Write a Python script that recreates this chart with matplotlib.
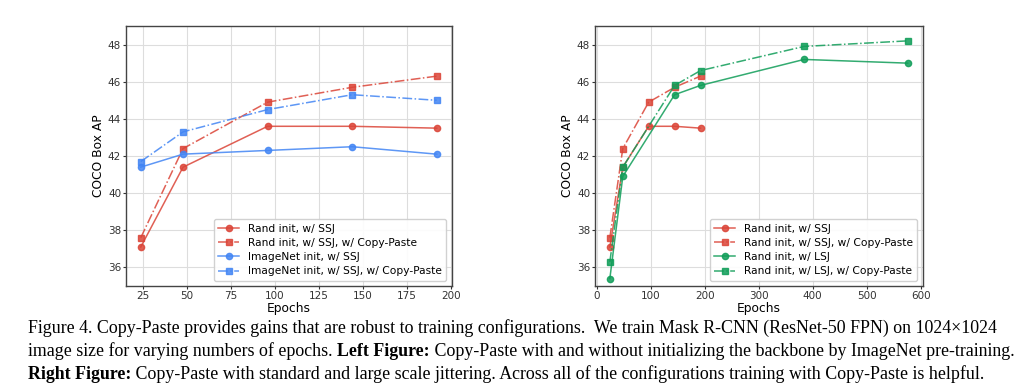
import matplotlib
matplotlib.use("Agg")
import matplotlib.pyplot as plt

# data
epochs_ssj = [24, 48, 96, 144, 192]
rand_ssj = [37.1, 41.4, 43.6, 43.6, 43.5]
rand_ssj_cp = [37.6, 42.4, 44.9, 45.7, 46.3]
imnet_ssj = [41.4, 42.1, 42.3, 42.5, 42.1]
imnet_ssj_cp = [41.7, 43.3, 44.5, 45.3, 45.0]

epochs_lsj = [24, 48, 144, 192, 384, 576]
rand_lsj = [35.4, 40.9, 45.3, 45.8, 47.2, 47.0]
rand_lsj_cp = [36.3, 41.4, 45.8, 46.6, 47.9, 48.2]

labels_left = ["Rand init, w/ SSJ", "Rand init, w/ SSJ, w/ Copy-Paste",
               "ImageNet init, w/ SSJ", "ImageNet init, w/ SSJ, w/ Copy-Paste"]
labels_right = ["Rand init, w/ SSJ", "Rand init, w/ SSJ, w/ Copy-Paste",
                "Rand init, w/ LSJ", "Rand init, w/ LSJ, w/ Copy-Paste"]

RED = "#DB4437"
BLUE = "#4285F4"
GREEN = "#0F9D58"

plt.rcParams["font.family"] = "DejaVu Sans"

fig = plt.figure(figsize=(10.24, 3.91), dpi=100)
ax1 = fig.add_axes([0.123, 0.2685, 0.318, 0.665])
ax2 = fig.add_axes([0.581, 0.2685, 0.320, 0.665])


def style(ax):
    ax.set_ylim(35, 49)
    ax.set_yticks([36, 38, 40, 42, 44, 46, 48])
    ax.grid(True, color="#dddddd", linewidth=0.8)
    ax.set_axisbelow(True)
    for s in ax.spines.values():
        s.set_color("#444444")
        s.set_linewidth(1.0)
    ax.tick_params(labelsize=7.5, colors="#333333", length=2.5, width=0.8, pad=1)
    ax.set_xlabel("Epochs", fontsize=8.8, labelpad=1)
    ax.set_ylabel("COCO Box AP", fontsize=8.8, labelpad=2)


def series(ax, x, y, color, cp, label):
    if cp:
        ax.plot(x, y, "-.", marker="s", color=color, markersize=5,
                linewidth=1.1, alpha=0.85, label=label)
    else:
        ax.plot(x, y, "-", marker="o", color=color, markersize=4.5,
                linewidth=1.1, alpha=0.85, label=label)


series(ax1, epochs_ssj, rand_ssj, RED, False, labels_left[0])
series(ax1, epochs_ssj, rand_ssj_cp, RED, True, labels_left[1])
series(ax1, epochs_ssj, imnet_ssj, BLUE, False, labels_left[2])
series(ax1, epochs_ssj, imnet_ssj_cp, BLUE, True, labels_left[3])
style(ax1)
ax1.set_xticks([25, 50, 75, 100, 125, 150, 175, 200])
ax1.legend(loc="lower right", fontsize=7.7, framealpha=0.9,
           edgecolor="#cccccc", borderpad=0.4, labelspacing=0.4)

series(ax2, epochs_ssj, rand_ssj, RED, False, labels_right[0])
series(ax2, epochs_ssj, rand_ssj_cp, RED, True, labels_right[1])
series(ax2, epochs_lsj, rand_lsj, GREEN, False, labels_right[2])
series(ax2, epochs_lsj, rand_lsj_cp, GREEN, True, labels_right[3])
style(ax2)
ax2.set_xticks([0, 100, 200, 300, 400, 500, 600])
ax2.legend(loc="lower right", fontsize=7.7, framealpha=0.9,
           edgecolor="#cccccc", borderpad=0.4, labelspacing=0.4)

# caption
cap_font = "Liberation Serif"
cap_size = 12.9
renderer = fig.canvas.get_renderer()


def chain(parts, x, y):
    for txt, bold in parts:
        t = fig.text(x, y, txt, fontsize=cap_size, family=cap_font,
                     fontweight="bold" if bold else "normal",
                     ha="left", va="baseline")
        bb = t.get_window_extent(renderer=renderer)
        x = x + bb.width / fig.bbox.width


x0 = 28 / 1024
chain([("Figure 4. Copy-Paste provides gains that are robust to training configurations.  "
        "We train Mask R-CNN (ResNet-50 FPN) on 1024\u00d71024", False)], x0, 1 - 333 / 391)
chain([("image size for varying numbers of epochs. ", False), ("Left Figure:", True),
       (" Copy-Paste with and without initializing the backbone by ImageNet pre-training.", False)],
      x0, 1 - 356 / 391)
chain([("Right Figure:", True),
       (" Copy-Paste with standard and large scale jittering. Across all of the configurations "
        "training with Copy-Paste is helpful.", False)], x0, 1 - 379 / 391)

fig.savefig("out.png", dpi=100)
